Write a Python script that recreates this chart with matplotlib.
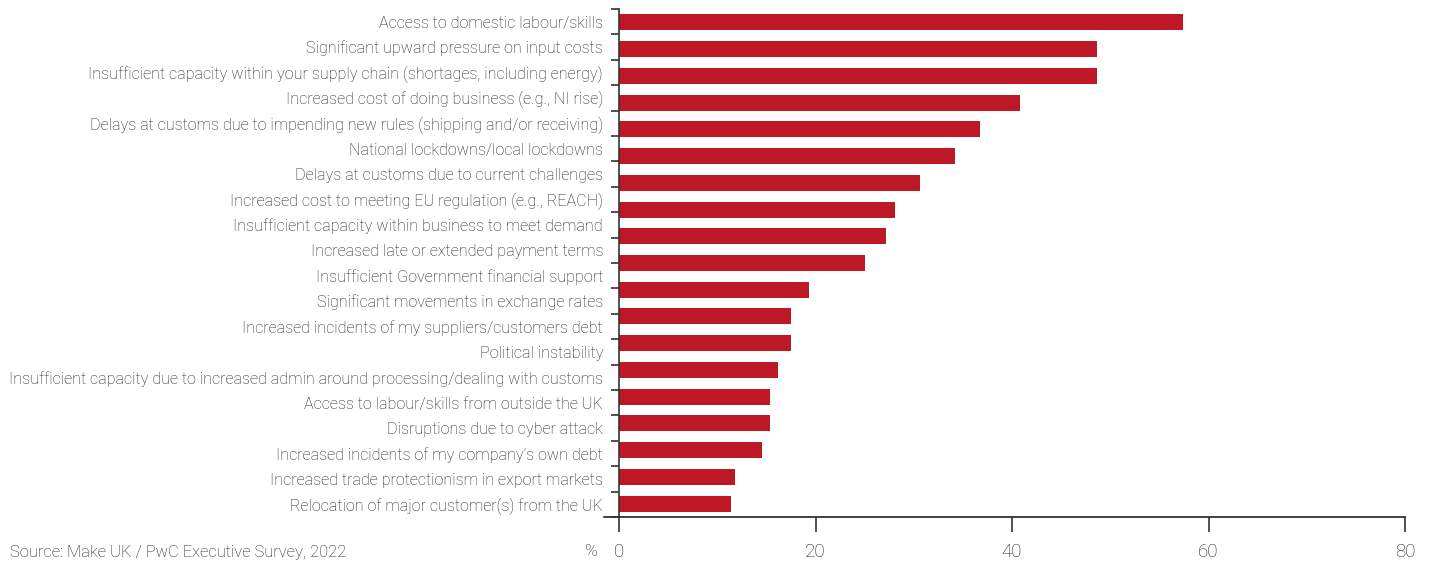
import matplotlib
matplotlib.use("Agg")
import matplotlib.pyplot as plt
import numpy as np

plt.rcParams['font.family'] = ['Roboto', 'DejaVu Sans']

categories = [
    "Access to domestic labour/skills",
    "Significant upward pressure on input costs",
    "Insufficient capacity within your supply chain (shortages, including energy)",
    "Increased cost of doing business (e.g., NI rise)",
    "Delays at customs due to impending new rules (shipping and/or receiving)",
    "National lockdowns/local lockdowns",
    "Delays at customs due to current challenges",
    "Increased cost to meeting EU regulation (e.g., REACH)",
    "Insufficient capacity within business to meet demand",
    "Increased late or extended payment terms",
    "Insufficient Government financial support",
    "Significant movements in exchange rates",
    "Increased incidents of my suppliers/customers debt",
    "Political instability",
    "Insufficient capacity due to increased admin around processing/dealing with customs",
    "Access to labour/skills from outside the UK",
    "Disruptions due to cyber attack",
    "Increased incidents of my company\u2019s own debt",
    "Increased trade protectionism in export markets",
    "Relocation of major customer(s) from the UK",
]

values = [57.4, 48.7, 48.7, 40.8, 36.7, 34.2, 30.6, 28.1, 27.2, 25.0,
          19.3, 17.5, 17.5, 16.2, 15.4, 15.4, 14.6, 11.8, 11.4]

x_ticks = [0, 20, 40, 60, 80]

BAR_RED = "#BE1826"
TEXT = "#1f1f1f"
LINE = "#333333"
W, H = 1429, 563

fig = plt.figure(figsize=(W / 100, H / 100), dpi=100)
left, right, top, bottom = 619 / W, 1405 / W, 1 - 9 / H, 1 - 517 / H
rect = [left, bottom, right - left, top - bottom]

# Bars
ax = fig.add_axes(rect)
pos = np.arange(len(values))
ax.barh(pos, values, height=0.6, color=BAR_RED, zorder=2)
ax.set_ylim(len(values) - 0.5, -0.5)
ax.set_xlim(0, 80)
ax.set_xticks(x_ticks)
ax.set_xticklabels([str(t) for t in x_ticks], fontsize=13.5, color=TEXT,
                   fontweight='light')
ax.tick_params(axis='x', length=11, width=1.2, color=LINE, pad=8)
ax.set_yticks([])
for s in ("top", "right"):
    ax.spines[s].set_visible(False)
ax.spines["left"].set_color(LINE)
ax.spines["left"].set_linewidth(1.2)
ax.spines["bottom"].set_color("#222222")
ax.spines["bottom"].set_linewidth(1.2)
ax.spines["bottom"].set_bounds(-1.5, 80)
ax.set_facecolor("none")

# Category labels with separator ticks
lab = fig.add_axes(rect, frameon=False)
lab.set_xlim(0, 1)
lab.set_xticks([])
n = len(categories)
lab.set_ylim(n - 0.5, -0.5)
lab.set_yticks(np.arange(-0.5, n, 1.0))
lab.set_yticklabels([])
lab.tick_params(axis='y', which='major', length=6, width=1.2, color=LINE)
lab.set_yticks(np.arange(n), minor=True)
lab.set_yticklabels(categories, minor=True, fontsize=11.6, color=TEXT,
                    fontweight='light')
lab.tick_params(axis='y', which='minor', length=0, pad=11.5)
lab.patch.set_visible(False)

fig.text(10 / W, 1 - 552 / H, "Source: Make UK / PwC Executive Survey, 2022",
         fontsize=11.9, color=TEXT, fontweight='light', va='center', ha='left')
fig.text(591 / W, 1 - 552 / H, "%", fontsize=12.5, color=TEXT,
         fontweight='light', va='center', ha='center')

fig.savefig("out.png", dpi=100)
